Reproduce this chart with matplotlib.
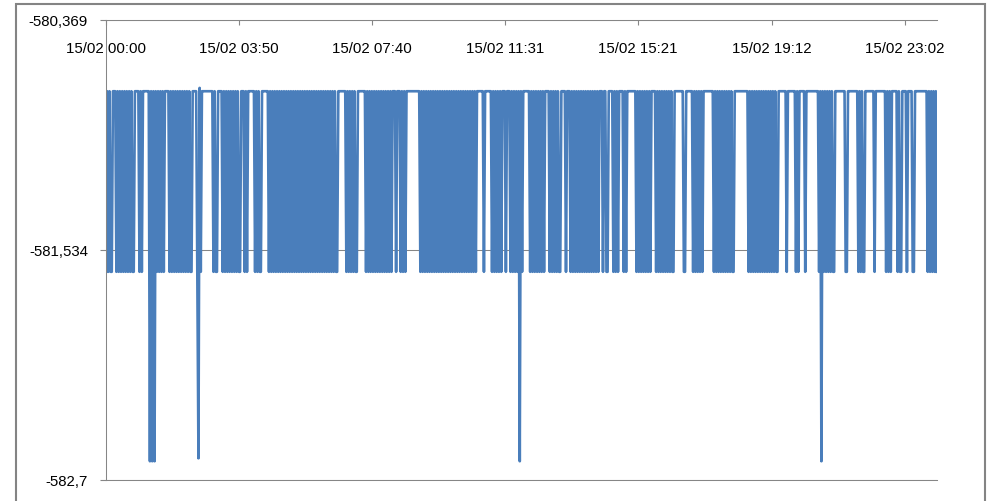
import numpy as np
import pandas as pd
import matplotlib
matplotlib.use("Agg")
import matplotlib.pyplot as plt
from matplotlib.patches import Rectangle

plt.rcParams["font.family"] = ["Liberation Sans", "DejaVu Sans"]
plt.rcParams["font.size"] = 10.8
plt.rcParams["path.simplify"] = False

# level of each code used in the signal rows below
level_values = {
    "1": -580.73,    # upper level
    "0": -581.645,   # lower level
    "2": -582.605,   # deep drops
    "3": -580.713,   # small overshoot
    "4": -582.59,
}

# one character per 2-minute sample, one row per 2 hours (15/02 00:00 -> 23:58)
signal_rows = [
    "010100" "111" "0101010101010100" "1111" "010" "111111" "21212" "10101010" "1111" "01010",
    "101010101010100" "1111" "0430" "1111111111" "0100" "1111" "0101010101010100" "111",
    "010" "111111" "010100" "111111" "0101010101" "0101010101" "0101010101" "010101010",
    "101010101010101010100" "1111111" "0101010100" "1111111" "010101010101010",
    "10101010" "111" "0" "111" "01010" "111111111111" "0101010101" "0101010101" "01010101",
    "010101010101010101010" "111111" "0" "111111" "010101010" "111" "0" "111" "0101010121",
    "0" "111111" "0101010101010" "1111" "0101010100" "1111" "0" "111" "010101010101010101",
    "0101010" "111" "0" "11" "00" "1111" "01010" "1111" "010" "11111111" "0101010101010" "1111" "0101",
    "010101010100" "11111111" "00" "111111" "010101010" "111111111" "01010101010101",
    "0100" "111111111111" "0101010101" "0101010101" "010100" "1111111" "0" "1111111" "010",
    "11111" "0" "11111111111" "01210101010100" "111111111" "00" "111111111" "010100" "111",
    "11111" "0" "111111111" "01010" "11111" "0100" "1111" "0" "1111" "00" "11111111111" "010101010",
]
assert all(len(r) == 60 for r in signal_rows), [len(r) for r in signal_rows]

x_tick_times = ["00:00", "03:50", "07:40", "11:31", "15:21", "19:12", "23:02"]
y_ticks = [-582.7, -581.534, -580.369]
y_tick_labels = ["-582,7", "-581,534", "-580,369"]

values = np.array([level_values[c] for c in "".join(signal_rows)])
times = pd.date_range("2015-02-15 00:00", periods=len(values), freq="2min")

gray = "#868686"
fig = plt.figure(figsize=(9.93, 5.02), dpi=100)
ax = fig.add_axes([106 / 993, 1 - 481 / 502, (937 - 106) / 993, (481 - 21) / 502])

ax.plot(times, values, color="#4a7ebb", lw=1.9)

ax.set_xlim(times[0], times[-1])
ax.set_ylim(-582.7, -580.369)

tick_pos = pd.to_datetime(["2015-02-15 " + t for t in x_tick_times])
ax.set_xticks(tick_pos)
ax.set_xticklabels(["15/02 " + t for t in x_tick_times])
ax.tick_params(axis="x", bottom=False, labelbottom=False, top=True, labeltop=True,
               direction="in", length=3.6, color=gray, pad=-25.5)

ax.set_yticks(y_ticks)
ax.set_yticklabels(y_tick_labels)
ax.tick_params(axis="y", direction="out", length=4.3, color=gray, pad=8.6)

ax.yaxis.grid(True, color=gray, lw=0.75)
ax.set_axisbelow(True)
ax.spines["right"].set_visible(False)
for side in ["left", "top", "bottom"]:
    ax.spines[side].set_color(gray)
    ax.spines[side].set_linewidth(0.75)

# chart border
fig.add_artist(Rectangle((16 / 993, -0.02), (985 - 16) / 993, 1.02 - 5 / 502,
                         transform=fig.transFigure, fill=False,
                         edgecolor="#848484", lw=1.5))

fig.savefig("out.png", dpi=100)
